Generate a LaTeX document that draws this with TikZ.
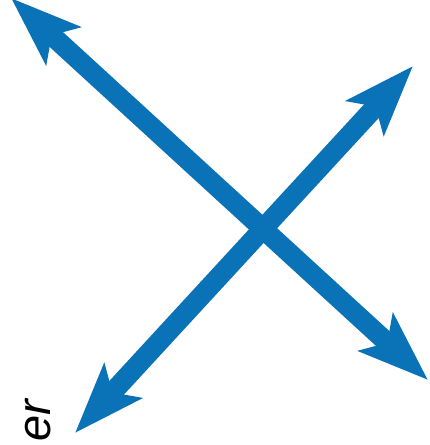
\documentclass[tikz,border=0pt]{standalone}
\usepackage{fontspec}
\setmainfont{Liberation Sans}
\usetikzlibrary{arrows.meta}
\definecolor{crossblue}{HTML}{0A72B6}

\begin{document}
\begin{tikzpicture}[x=1pt, y=-1pt,
    twoway/.style={crossblue, line width=20pt,
      {Stealth[length=70pt, width=50pt, inset=15pt]}-{Stealth[length=70pt, width=50pt, inset=15pt]}}]
      \useasboundingbox (0,0) rectangle (429,445);
      \clip (0,0) rectangle (429,445);

      % End points
      \coordinate (topleft) at (11,-2);
      \coordinate (botright) at (428,380);
      \coordinate (topright) at (413,66);
      \coordinate (botleft) at (75,433);

      % Arrows
      \draw[twoway] (topleft) -- (botright);
      \draw[twoway] (botleft) -- (topright);

      % Label
      \node[rotate=90, anchor=base east, inner sep=0pt, font=\fontsize{47}{50}\selectfont\itshape] (word) at (50,400) {er};
    \end{tikzpicture}
\end{document}
